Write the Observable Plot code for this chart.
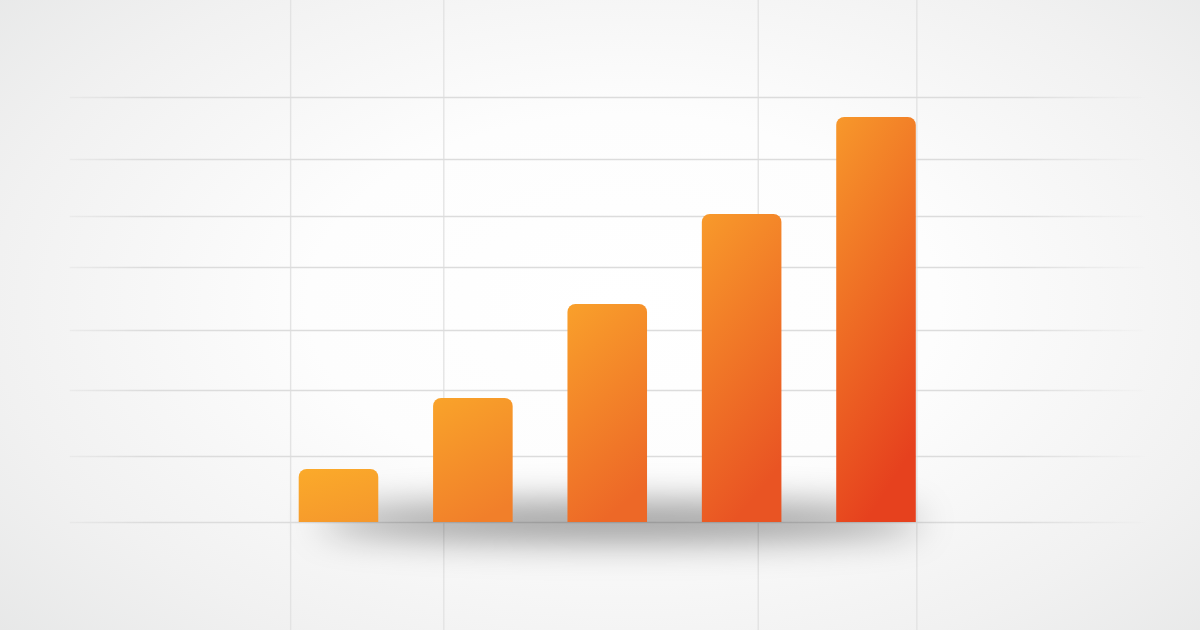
<!DOCTYPE html>
<html>
<head>
<meta charset="utf-8">
<script src="https://cdn.jsdelivr.net/npm/d3@7"></script>
<script src="https://cdn.jsdelivr.net/npm/@observablehq/plot@0.6"></script>
<style>
  html, body { margin: 0; padding: 0; background: #ffffff; }
  #chart { width: 1200px; height: 630px; overflow: hidden; }
</style>
</head>
<body>
<div id="chart"></div>
<script>
// ---- data ----
const categories = ["1", "2", "3", "4", "5"];
const values = [53, 124, 218, 308, 405];                 // bar heights (baseline = 0)
const topColors = ["#FBAA2A", "#F9A32A", "#F9A02B", "#F89A2B", "#F7982B"];
const bottomColors = ["#F5982C", "#F17F2A", "#ED6827", "#E95423", "#E6411E"];
const hGrid = [0, 66, 132, 192, 255, 306, 363, 425];      // horizontal grid values
const vGrid = [0.14, 1.28, 3.62, 4.80];                   // vertical grid positions (slot units)

const data = categories.map((c, i) => ({
  category: c, slot: i, value: values[i], fill: `url(#bar-grad-${i})`
}));

const plot = Plot.plot({
  width: 1200,
  height: 630,
  marginLeft: 271.3,
  marginRight: 256.8,
  marginTop: 0,
  marginBottom: 108,
  style: {
    background: "radial-gradient(ellipse 75% 85% at 52% 48%, #ffffff 0%, #fdfdfd 35%, #f1f1f1 70%, #e4e5e5 100%)"
  },
  x: { domain: [0, 5], axis: null },
  y: { domain: [0, 522], axis: null },
  color: { type: "identity" },
  marks: [
    Plot.ruleX(vGrid, { y1: -108, y2: 522, stroke: "#e3e3e3", strokeWidth: 1.4 }),
    Plot.ruleY(hGrid, { x1: -1.5, x2: 6.5, stroke: "url(#hfade)", strokeWidth: 1.6 }),
    Plot.rectY(data, {
      x1: "slot",
      x2: d => d.slot + 1,
      y1: 0,
      y2: "value",
      fill: "fill",
      insetLeft: 27.4,
      insetRight: 27.4,
      insetBottom: -10,
      rx: 8,
      clip: true
    })
  ]
});

const svg = d3.select(plot);
const markGroups = Array.from(plot.children).filter(n => n.tagName.toLowerCase() === "g");
const barsG = markGroups[markGroups.length - 1];

const defs = svg.insert("defs", ":first-child");

// per-bar gradients (mostly vertical, slight diagonal)
data.forEach((d, i) => {
  const g = defs.append("linearGradient")
    .attr("id", `bar-grad-${i}`)
    .attr("x1", 0).attr("y1", 0).attr("x2", 0.3).attr("y2", 1);
  g.append("stop").attr("offset", "0%").attr("stop-color", topColors[i]);
  g.append("stop").attr("offset", "100%").attr("stop-color", bottomColors[i]);
});

// horizontal grid fade
const hf = defs.append("linearGradient")
  .attr("id", "hfade").attr("gradientUnits", "userSpaceOnUse")
  .attr("x1", 0).attr("y1", 0).attr("x2", 1200).attr("y2", 0);
[[0.02, 0], [0.12, 1], [0.85, 1], [0.96, 0]].forEach(([o, a]) =>
  hf.append("stop").attr("offset", o).attr("stop-color", "#dcdcdc").attr("stop-opacity", a));

// soft shadow under the bars
const blur = defs.append("filter").attr("id", "shadow-blur")
  .attr("x", "-50%").attr("y", "-300%").attr("width", "200%").attr("height", "700%");
blur.append("feGaussianBlur").attr("stdDeviation", 18);

const xs = plot.scale("x"), ys = plot.scale("y");
const x0 = xs.apply(0), x5 = xs.apply(5), base = ys.apply(0);
const shadow = document.createElementNS("http://www.w3.org/2000/svg", "g");
plot.insertBefore(shadow, barsG);
d3.select(shadow).attr("filter", "url(#shadow-blur)")
  .append("ellipse")
  .attr("cx", x0 + (x5 - x0) * 0.52)
  .attr("cy", base)
  .attr("rx", (x5 - x0) * 0.45)
  .attr("ry", 18)
  .attr("fill", "#000")
  .attr("fill-opacity", 0.42);

document.getElementById("chart").appendChild(plot);
</script>
</body>
</html>
